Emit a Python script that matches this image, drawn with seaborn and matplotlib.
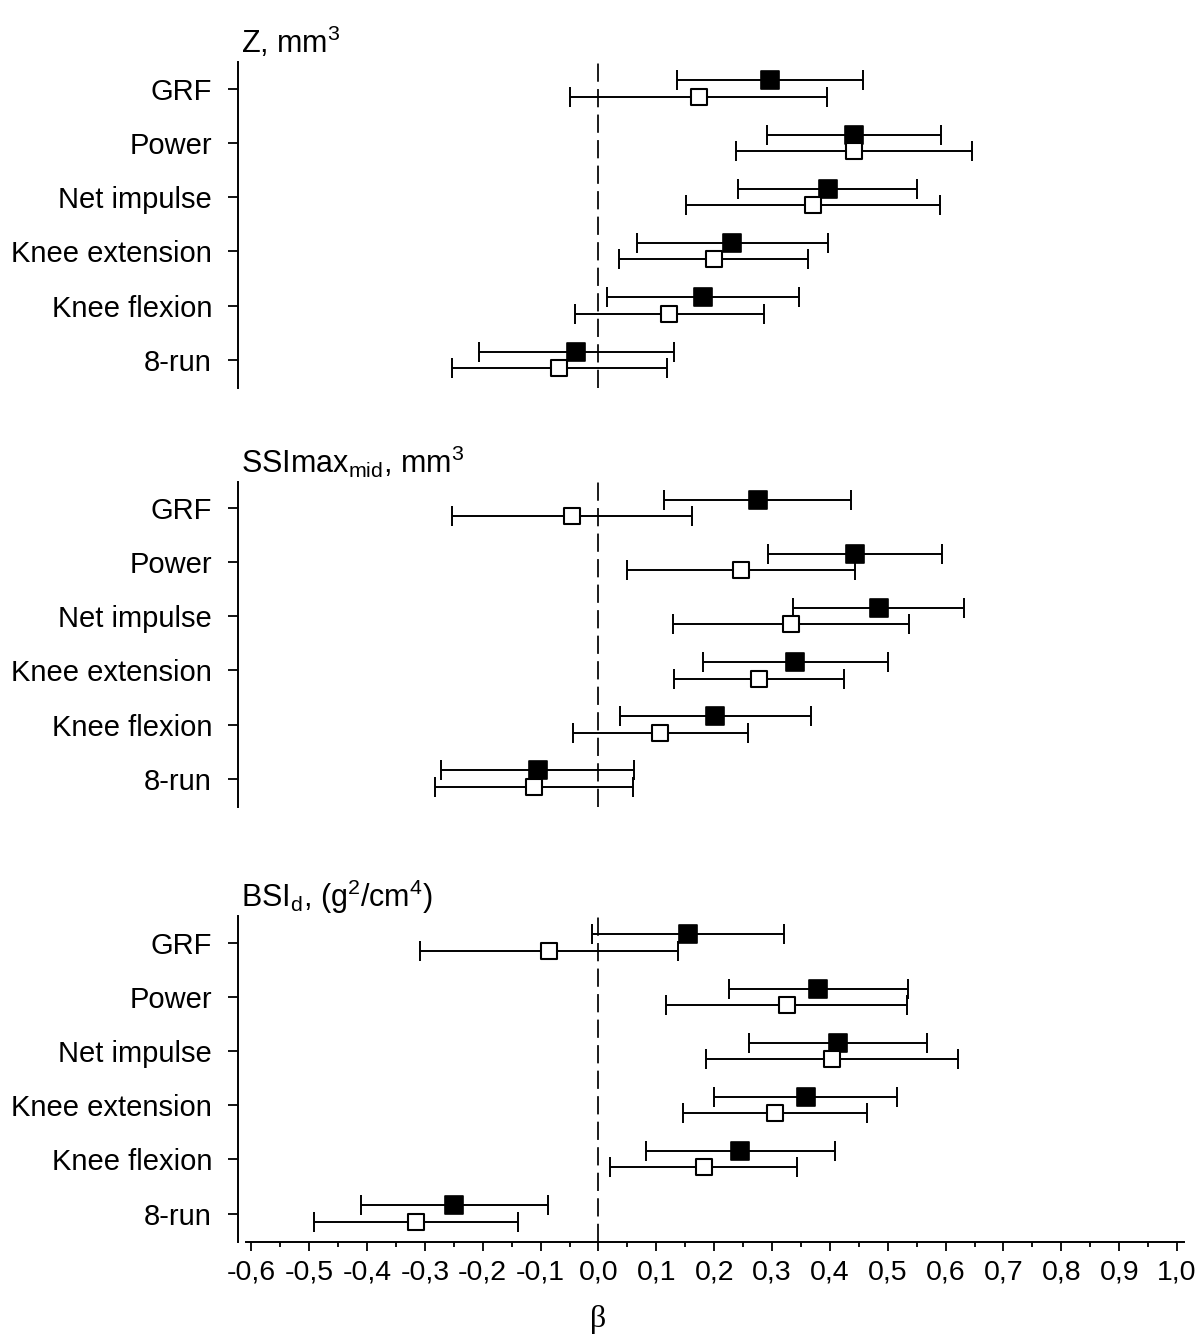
import matplotlib
matplotlib.use('Agg')
import matplotlib.pyplot as plt
import seaborn as sns
import numpy as np
from matplotlib.ticker import MultipleLocator, FuncFormatter

categories = ['GRF', 'Power', 'Net impulse', 'Knee extension', 'Knee flexion', '8-run']
panel_titles = ['Z, mm$^3$', 'SSImax$_{mid}$, mm$^3$', 'BSI$_d$, (g$^2$/cm$^4$)']

# Z, mm3
z_filled = [0.297, 0.441, 0.396, 0.231, 0.181, -0.039]
z_filled_lo = [0.136, 0.291, 0.242, 0.067, 0.015, -0.207]
z_filled_hi = [0.457, 0.592, 0.551, 0.396, 0.346, 0.130]
z_open = [0.173, 0.441, 0.371, 0.199, 0.122, -0.068]
z_open_lo = [-0.050, 0.237, 0.151, 0.035, -0.041, -0.254]
z_open_hi = [0.395, 0.645, 0.591, 0.363, 0.286, 0.118]

# SSImax mid, mm3
ssi_filled = [0.275, 0.443, 0.484, 0.340, 0.202, -0.105]
ssi_filled_lo = [0.114, 0.293, 0.337, 0.181, 0.037, -0.273]
ssi_filled_hi = [0.437, 0.594, 0.632, 0.500, 0.367, 0.061]
ssi_open = [-0.046, 0.247, 0.332, 0.277, 0.107, -0.111]
ssi_open_lo = [-0.254, 0.050, 0.129, 0.130, -0.044, -0.282]
ssi_open_hi = [0.161, 0.443, 0.537, 0.424, 0.259, 0.060]

# BSI d, (g2/cm4)
bsi_filled = [0.155, 0.380, 0.414, 0.358, 0.245, -0.249]
bsi_filled_lo = [-0.011, 0.225, 0.261, 0.200, 0.082, -0.411]
bsi_filled_hi = [0.320, 0.535, 0.568, 0.516, 0.408, -0.088]
bsi_open = [-0.085, 0.325, 0.403, 0.305, 0.182, -0.315]
bsi_open_lo = [-0.308, 0.116, 0.185, 0.146, 0.020, -0.491]
bsi_open_hi = [0.138, 0.534, 0.621, 0.464, 0.343, -0.139]

x_ticks = [-0.6, -0.5, -0.4, -0.3, -0.2, -0.1, 0.0, 0.1, 0.2, 0.3, 0.4, 0.5, 0.6, 0.7, 0.8, 0.9, 1.0]

panels = [
    (z_filled, z_filled_lo, z_filled_hi, z_open, z_open_lo, z_open_hi),
    (ssi_filled, ssi_filled_lo, ssi_filled_hi, ssi_open, ssi_open_lo, ssi_open_hi),
    (bsi_filled, bsi_filled_lo, bsi_filled_hi, bsi_open, bsi_open_lo, bsi_open_hi),
]

sns.set_theme(style='ticks')
plt.rcParams['font.family'] = ['Liberation Sans', 'DejaVu Sans']
plt.rcParams['mathtext.fontset'] = 'custom'
plt.rcParams['mathtext.rm'] = 'Liberation Sans'
plt.rcParams['mathtext.it'] = 'Liberation Sans:italic'
plt.rcParams['mathtext.default'] = 'regular'

W, H = 1199, 1338
fig = plt.figure(figsize=(W / 100, H / 100), dpi=100)

left_px, right_px = 238, 1184
tops = [62, 481.7, 916]
bottoms = [388, 806.7, 1241.7]
offset = 0.15

for i, (fb, flo, fhi, ob, olo, ohi) in enumerate(panels):
    ax = fig.add_axes([left_px / W, 1 - bottoms[i] / H,
                       (right_px - left_px) / W, (bottoms[i] - tops[i]) / H])
    pos = np.arange(len(categories))
    fb, flo, fhi = np.array(fb), np.array(flo), np.array(fhi)
    ob, olo, ohi = np.array(ob), np.array(olo), np.array(ohi)

    # zero reference line
    ax.axvline(0, color='black', lw=1.25, ls=(0, (10.5, 4.2)), zorder=1)

    ax.errorbar(fb, pos - offset, xerr=[fb - flo, fhi - fb], fmt='none',
                ecolor='black', elinewidth=1.4, capsize=7, capthick=1.4, zorder=2)
    ax.errorbar(ob, pos + offset, xerr=[ob - olo, ohi - ob], fmt='none',
                ecolor='black', elinewidth=1.4, capsize=7, capthick=1.4, zorder=2)
    sns.scatterplot(x=fb, y=pos - offset, marker='s', s=156, color='black',
                    edgecolor='black', linewidth=1.2, ax=ax, zorder=3)
    sns.scatterplot(x=ob, y=pos + offset, marker='s', s=148, color='white',
                    edgecolor='black', linewidth=1.5, ax=ax, zorder=4)

    ax.set_xlim(-0.623, 1.012)
    ax.set_ylim(5.52, -0.49)
    ax.set_yticks(pos)
    ax.set_yticklabels(categories, fontsize=21)
    ax.tick_params(axis='y', direction='out', length=7.2, width=1.3,
                   pad=11.5, color='black', labelcolor='black')
    ax.spines['left'].set_linewidth(1.4)
    ax.spines['left'].set_color('black')
    for s in ['top', 'right']:
        ax.spines[s].set_visible(False)

    if i < 2:
        ax.spines['bottom'].set_visible(False)
        ax.set_xticks([])
    else:
        ax.spines['bottom'].set_bounds(-0.61, 1.012)
        ax.spines['bottom'].set_linewidth(1.4)
        ax.spines['bottom'].set_color('black')
        ax.set_xticks(x_ticks)
        ax.xaxis.set_minor_locator(MultipleLocator(0.05))
        ax.xaxis.set_major_formatter(FuncFormatter(lambda v, p: f'{v:.1f}'.replace('.', ',')))
        ax.tick_params(axis='x', which='major', direction='out', length=6.5, width=1.3,
                       pad=6, labelsize=20.5, color='black', labelcolor='black')
        ax.tick_params(axis='x', which='minor', direction='out', length=3.6, width=1.3,
                       color='black')

    ax.set_xlabel('')
    ax.set_ylabel('')
    ax.annotate(panel_titles[i], xy=(0, 1), xycoords='axes fraction',
                xytext=(2, 6.5), textcoords='offset points',
                ha='left', va='baseline', fontsize=22, color='black')

fig.text(598 / W, 1 - 1320 / H, 'β', ha='center', va='center',
         fontsize=23, family=['Liberation Serif', 'DejaVu Serif'], color='black')

fig.savefig('out.png', dpi=100, facecolor='white')
